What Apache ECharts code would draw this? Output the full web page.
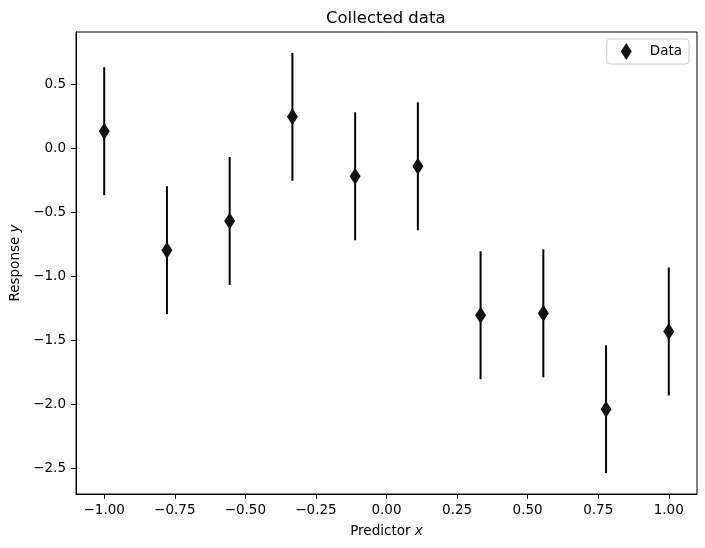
<!DOCTYPE html>
<html>
<head>
<meta charset="utf-8">
<script src="https://cdn.jsdelivr.net/npm/echarts@6/dist/echarts.min.js"></script>
<style>
  html, body { margin: 0; padding: 0; background: #fff; }
  #chartDom { width: 705px; height: 548px; }
</style>
</head>
<body>
<div id="chartDom"></div>
<script>
// data
var xValues = [-1.0, -0.7778, -0.5556, -0.3333, -0.1111, 0.1111, 0.3333, 0.5556, 0.7778, 1.0];
var yValues = [0.135, -0.795, -0.567, 0.247, -0.218, -0.140, -1.303, -1.289, -2.038, -1.431];
var yErrors = [0.5, 0.5, 0.5, 0.5, 0.5, 0.5, 0.5, 0.5, 0.5, 0.5];
var xTicks = [-1.0, -0.75, -0.5, -0.25, 0.0, 0.25, 0.5, 0.75, 1.0];
var yTicks = [-2.5, -2.0, -1.5, -1.0, -0.5, 0.0, 0.5];

var FONT = 'DejaVu Sans';
var FS = 13.5;

function fmt(v, d) {
    var s = Math.abs(v).toFixed(d);
    return (v < 0 ? '\u2212' : '') + s;
}

var points = xValues.map(function (x, i) { return [x, yValues[i]]; });
var bars = xValues.map(function (x, i) { return [x, yValues[i] - yErrors[i], yValues[i] + yErrors[i]]; });

var myChart = echarts.init(document.getElementById('chartDom'));

var option = {
    animation: false,
    backgroundColor: '#fff',
    title: {
        text: 'Collected data',
        left: 326,
        top: 10,
        padding: 0,
        textStyle: { fontFamily: FONT, fontSize: 16.5, fontWeight: 'normal', color: '#000' }
    },
    legend: {
        data: [{ name: 'Data', icon: 'diamond' }],
        right: 16,
        top: 39,
        orient: 'vertical',
        itemWidth: 11,
        itemHeight: 17,
        padding: [4, 7, 4, 14],
        borderColor: '#cccccc',
        borderWidth: 1,
        borderRadius: 3,
        backgroundColor: 'rgba(255,255,255,0.8)',
        textStyle: { fontFamily: FONT, fontSize: FS, color: '#000', padding: [0, 0, 0, 13] }
    },
    grid: {
        left: 76,
        top: 32,
        width: 621,
        height: 462,
        show: true,
        borderColor: '#000',
        borderWidth: 1,
        backgroundColor: '#fff'
    },
    xAxis: {
        type: 'value',
        min: -1.1,
        max: 1.1,
        name: '{a|Predictor }{b|x}',
        nameLocation: 'middle',
        nameGap: 30,
        nameTextStyle: {
            rich: {
                a: { fontFamily: FONT, fontSize: FS, color: '#000' },
                b: { fontFamily: FONT, fontSize: FS, color: '#000', fontStyle: 'italic' }
            }
        },
        axisLine: { show: true, onZero: false, lineStyle: { color: '#000', width: 1 } },
        axisTick: { show: true, length: 5, customValues: xTicks, lineStyle: { color: '#000' } },
        axisLabel: {
            customValues: xTicks,
            margin: 9,
            fontFamily: FONT, fontSize: FS, color: '#000',
            formatter: function (v) { return fmt(v, 2); }
        },
        splitLine: { show: false }
    },
    yAxis: {
        type: 'value',
        min: -2.701,
        max: 0.910,
        name: '{a|Response }{b|y}',
        nameLocation: 'middle',
        nameGap: 49,
        nameTextStyle: {
            rich: {
                a: { fontFamily: FONT, fontSize: FS, color: '#000' },
                b: { fontFamily: FONT, fontSize: FS, color: '#000', fontStyle: 'italic' }
            }
        },
        axisLine: { show: true, onZero: false, lineStyle: { color: '#000', width: 1 } },
        axisTick: { show: true, length: 5, customValues: yTicks, lineStyle: { color: '#000' } },
        axisLabel: {
            customValues: yTicks,
            margin: 10,
            fontFamily: FONT, fontSize: FS, color: '#000',
            formatter: function (v) { return fmt(v, 1); }
        },
        splitLine: { show: false }
    },
    series: [
        {
            name: 'errors',
            type: 'custom',
            z: 2,
            data: bars,
            encode: { x: 0, y: [1, 2] },
            renderItem: function (params, api) {
                var p1 = api.coord([api.value(0), api.value(1)]);
                var p2 = api.coord([api.value(0), api.value(2)]);
                return {
                    type: 'line',
                    shape: { x1: p1[0], y1: p1[1], x2: p2[0], y2: p2[1] },
                    style: { stroke: '#000', lineWidth: 2 }
                };
            }
        },
        {
            name: 'Data',
            type: 'scatter',
            z: 3,
            symbol: 'diamond',
            symbolSize: [11, 17],
            itemStyle: { color: '#111', opacity: 1 },
            data: points
        }
    ]
};

myChart.setOption(option);
</script>
</body>
</html>
